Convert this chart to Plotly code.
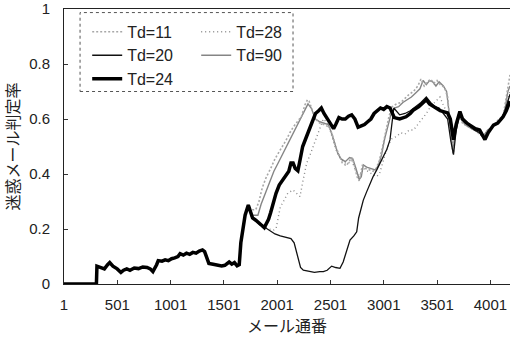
import plotly.graph_objects as go

# ---- data (message number, spam-judgement rate) ----
common_x = [1, 300, 305, 310, 350, 380, 410, 430, 460, 500, 535, 560, 590, 620, 660, 700, 740, 780,
            810, 835, 870, 885, 920, 950, 980, 1010, 1040, 1070, 1090, 1120, 1150, 1180, 1210, 1240,
            1270, 1300, 1320, 1340, 1360, 1400, 1440, 1480, 1510, 1530, 1550, 1575, 1600, 1625, 1645,
            1660, 1680, 1700, 1730]
common_y = [0, 0, 0, 0.065, 0.06, 0.055, 0.07, 0.078, 0.065, 0.055, 0.042, 0.05, 0.055, 0.05, 0.058,
            0.056, 0.062, 0.06, 0.055, 0.045, 0.07, 0.085, 0.083, 0.088, 0.085, 0.092, 0.095, 0.1, 0.11,
            0.105, 0.112, 0.108, 0.115, 0.112, 0.12, 0.124, 0.118, 0.1, 0.075, 0.072, 0.068, 0.066, 0.068,
            0.075, 0.08, 0.072, 0.078, 0.066, 0.07, 0.15, 0.2, 0.25, 0.287]

td24_x = [1750, 1770, 1800, 1830, 1860, 1880, 1900, 1920, 1940, 1960, 1990, 2020, 2050, 2080, 2110,
          2130, 2150, 2170, 2195, 2215, 2240, 2270, 2300, 2330, 2360, 2390, 2415, 2440, 2470, 2500,
          2530, 2550, 2580, 2610, 2640, 2670, 2700, 2730, 2760, 2790, 2820, 2850, 2880, 2910, 2940,
          2970, 3000, 3030, 3060, 3100, 3150, 3210, 3250, 3280, 3330, 3370, 3400, 3430, 3465, 3500,
          3530, 3560, 3600, 3625, 3640, 3655, 3680, 3715, 3740, 3780, 3820, 3860, 3900, 3925, 3950,
          3980, 4030, 4070, 4120, 4150, 4185]
td24_y = [0.26, 0.24, 0.232, 0.22, 0.212, 0.205, 0.22, 0.235, 0.26, 0.29, 0.33, 0.36, 0.375, 0.39, 0.41,
          0.44, 0.44, 0.42, 0.412, 0.45, 0.5, 0.53, 0.56, 0.585, 0.62, 0.63, 0.64, 0.62, 0.6, 0.585,
          0.565, 0.58, 0.605, 0.6, 0.6, 0.61, 0.615, 0.6, 0.57, 0.575, 0.58, 0.59, 0.6, 0.62, 0.63,
          0.64, 0.635, 0.645, 0.64, 0.605, 0.6, 0.608, 0.62, 0.633, 0.645, 0.66, 0.67, 0.655, 0.645,
          0.635, 0.63, 0.627, 0.622, 0.6, 0.55, 0.525, 0.58, 0.627, 0.6, 0.585, 0.575, 0.565, 0.56,
          0.54, 0.525, 0.55, 0.578, 0.585, 0.608, 0.63, 0.665]

td20_x = [1760, 1800, 1840, 1877, 1930, 1980, 2030, 2080, 2130, 2160, 2185, 2200, 2220, 2246, 2300,
          2350, 2400, 2434, 2470, 2512, 2550, 2590, 2620, 2650, 2684, 2720, 2747, 2765, 2790, 2809,
          2840, 2872, 2900, 2935, 2965, 2997, 3030, 3059, 3075, 3095, 3150, 3200, 3250, 3300, 3350,
          3400, 3440, 3480, 3520, 3560, 3600, 3630, 3655, 3680, 3710, 3750, 3800, 3850, 3900, 3940,
          3980, 4030, 4080, 4130, 4185]
td20_y = [0.245, 0.23, 0.215, 0.208, 0.195, 0.182, 0.175, 0.17, 0.165, 0.15, 0.11, 0.087, 0.06, 0.05,
          0.045, 0.042, 0.045, 0.045, 0.05, 0.065, 0.06, 0.057, 0.08, 0.12, 0.16, 0.175, 0.19, 0.24,
          0.28, 0.305, 0.335, 0.366, 0.39, 0.415, 0.44, 0.463, 0.49, 0.524, 0.58, 0.64, 0.615, 0.62,
          0.63, 0.645, 0.66, 0.68, 0.66, 0.645, 0.64, 0.62, 0.6, 0.52, 0.47, 0.56, 0.61, 0.6, 0.575,
          0.56, 0.55, 0.53, 0.555, 0.575, 0.59, 0.62, 0.69]

td11_x = [1760, 1800, 1830, 1861, 1900, 1940, 1980, 2018, 2050, 2080, 2120, 2150, 2190, 2230, 2260,
          2285, 2300, 2330, 2360, 2400, 2440, 2490, 2520, 2550, 2580, 2612, 2650, 2680, 2700, 2720,
          2750, 2770, 2800, 2830, 2870, 2900, 2930, 2960, 2990, 3020, 3050, 3080, 3120, 3160, 3200,
          3240, 3280, 3320, 3350, 3380, 3410, 3440, 3470, 3500, 3530, 3570, 3600, 3620, 3640, 3655,
          3670, 3700, 3740, 3780, 3820, 3860, 3900, 3940, 3980, 4030, 4080, 4120, 4150, 4170, 4185]
td11_y = [0.27, 0.27, 0.3, 0.35, 0.39, 0.42, 0.455, 0.48, 0.5, 0.52, 0.55, 0.57, 0.59, 0.61, 0.65,
          0.67, 0.665, 0.63, 0.6, 0.585, 0.58, 0.57, 0.54, 0.5, 0.47, 0.44, 0.43, 0.45, 0.46, 0.44,
          0.39, 0.375, 0.43, 0.42, 0.415, 0.41, 0.42, 0.45, 0.5, 0.56, 0.61, 0.645, 0.655, 0.66, 0.675,
          0.69, 0.7, 0.72, 0.745, 0.72, 0.735, 0.745, 0.73, 0.74, 0.725, 0.715, 0.68, 0.6, 0.5, 0.48,
          0.55, 0.62, 0.585, 0.575, 0.565, 0.56, 0.545, 0.535, 0.56, 0.575, 0.6, 0.61, 0.68, 0.74, 0.76]

td28_x = [1760, 1800, 1840, 1877, 1920, 1960, 1990, 2010, 2030, 2060, 2100, 2150, 2180, 2215, 2240,
          2278, 2310, 2340, 2370, 2403, 2434, 2460, 2490, 2520, 2550, 2590, 2630, 2670, 2700, 2740,
          2778, 2810, 2850, 2890, 2930, 2960, 2990, 3020, 3050, 3080, 3120, 3160, 3200, 3240, 3280,
          3320, 3360, 3400, 3440, 3480, 3528, 3560, 3600, 3625, 3645, 3665, 3700, 3740, 3790, 3840,
          3890, 3930, 3970, 4020, 4070, 4120, 4160, 4185]
td28_y = [0.245, 0.23, 0.215, 0.208, 0.2, 0.195, 0.2, 0.24, 0.28, 0.3, 0.33, 0.342, 0.33, 0.318, 0.37,
          0.44, 0.47, 0.5, 0.53, 0.565, 0.6, 0.59, 0.57, 0.53, 0.49, 0.46, 0.44, 0.44, 0.45, 0.41,
          0.39, 0.42, 0.41, 0.4, 0.39, 0.4, 0.44, 0.48, 0.51, 0.53, 0.536, 0.55, 0.545, 0.56, 0.56,
          0.58, 0.6, 0.62, 0.645, 0.66, 0.68, 0.65, 0.62, 0.56, 0.5, 0.56, 0.61, 0.59, 0.58, 0.565,
          0.55, 0.535, 0.555, 0.575, 0.59, 0.615, 0.66, 0.7]

td90_x = [1770, 1820, 1850, 1890, 1930, 1970, 2010, 2050, 2090, 2130, 2170, 2210, 2250, 2290, 2320,
          2360, 2400, 2440, 2480, 2510, 2540, 2570, 2600, 2640, 2680, 2710, 2740, 2770, 2790, 2809,
          2840, 2880, 2920, 2950, 2980, 3010, 3040, 3070, 3100, 3140, 3180, 3220, 3260, 3300, 3340,
          3370, 3400, 3430, 3460, 3490, 3520, 3560, 3590, 3615, 3635, 3650, 3665, 3690, 3720, 3760,
          3800, 3850, 3900, 3940, 3975, 4020, 4070, 4110, 4140, 4165, 4185]
td90_y = [0.25, 0.25, 0.29, 0.33, 0.37, 0.41, 0.44, 0.47, 0.5, 0.53, 0.56, 0.59, 0.62, 0.655, 0.64,
          0.6, 0.59, 0.585, 0.58, 0.55, 0.51, 0.475, 0.455, 0.445, 0.46, 0.455, 0.42, 0.38, 0.39, 0.433,
          0.425, 0.42, 0.415, 0.43, 0.47, 0.53, 0.58, 0.62, 0.64, 0.645, 0.66, 0.67, 0.68, 0.695, 0.71,
          0.74, 0.725, 0.74, 0.735, 0.72, 0.735, 0.72, 0.7, 0.62, 0.52, 0.475, 0.54, 0.6, 0.61, 0.58,
          0.57, 0.56, 0.55, 0.54, 0.56, 0.57, 0.59, 0.6, 0.64, 0.7, 0.72]

x_tickvals = [1, 501, 1001, 1501, 2001, 2501, 3001, 3501, 4001]
x_ticktext = ["1", "501", "1001", "1501", "2001", "2501", "3001", "3501", "4001"]
y_tickvals = [0, 0.2, 0.4, 0.6, 0.8, 1]
y_ticktext = ["0", "0.2", "0.4", "0.6", "0.8", "1"]

series = [
    # name, x, y, color, width, dash, legendgroup, rank
    ("Td=28", td28_x, td28_y, "#8a8a8a", 1.4, "1px,3px", "b", 4),
    ("Td=90", td90_x, td90_y, "#858585", 1.4, "solid", "b", 5),
    ("Td=11", td11_x, td11_y, "#a8a8a8", 1.6, "2px,2px", "a", 1),
    ("Td=20", td20_x, td20_y, "#111111", 1.3, "solid", "a", 2),
    ("Td=24", td24_x, td24_y, "#000000", 3.5, "solid", "a", 3),
]

fig = go.Figure()
for name, xs, ys, color, width, dash, grp, rank in series:
    fig.add_trace(go.Scatter(
        x=common_x + xs, y=common_y + ys, mode="lines",
        name="<span style='font-size:16px'>" + name + "</span>",
        line=dict(color=color, width=width, dash=dash),
        legendgroup=grp, legendrank=rank,
    ))

font_num = "Liberation Sans, Arial, sans-serif"
font_jp = "Noto Sans CJK JP, sans-serif"

fig.update_layout(
    width=510, height=339,
    margin=dict(l=64, r=0, t=9, b=55),
    paper_bgcolor="white", plot_bgcolor="white",
    showlegend=True,
    legend=dict(
        orientation="h", x=0.052, y=0.978, xanchor="left", yanchor="top",
        font=dict(family=font_num, size=15.75, color="#222"),
        bgcolor="rgba(255,255,255,0)", borderwidth=0,
        entrywidth=64, entrywidthmode="pixels", tracegroupgap=0,
    ),
    xaxis=dict(
        range=[1, 4185], tickvals=x_tickvals, ticktext=x_ticktext,
        ticks="inside", ticklen=4, tickcolor="#333",
        showline=True, linecolor="#222", linewidth=1, mirror=True,
        showgrid=False, zeroline=False, ticklabelstandoff=7,
        tickfont=dict(family=font_num, size=15, color="#222"),
        title=dict(text="メール通番", font=dict(family=font_jp, size=16, color="#222"), standoff=4),
    ),
    yaxis=dict(
        range=[0, 1], tickvals=y_tickvals, ticktext=y_ticktext,
        ticks="inside", ticklen=4, tickcolor="#333",
        showline=True, linecolor="#222", linewidth=1,
        showgrid=False, zeroline=False, ticklabelstandoff=10,
        tickfont=dict(family=font_num, size=15, color="#222"),
        title=dict(text="迷惑メール判定率", font=dict(family=font_jp, size=16, color="#222"), standoff=8),
    ),
    shapes=[dict(type="rect", xref="paper", yref="paper",
                 x0=0.036, x1=0.5135, y0=0.70, y1=0.987,
                 line=dict(color="#555", width=1, dash="dot"), fillcolor="rgba(0,0,0,0)")],
)

fig.write_html("out.html")
